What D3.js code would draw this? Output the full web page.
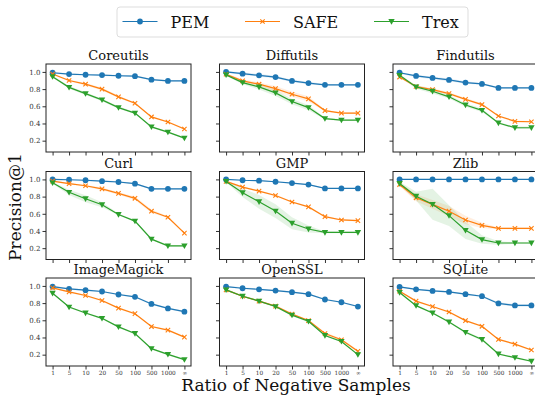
<!DOCTYPE html>
<html lang="en">
<head>
<meta charset="UTF-8">
<script src="https://d3js.org/d3.v7.min.js"></script>
<title>Precision@1 vs ratio of negative samples</title>
<style>
  html, body { margin: 0; padding: 0; background: #fff; overflow: hidden; }
  text { font-family: "DejaVu Serif", "Liberation Serif", serif; }
  .tick text { font-size: 7px; fill: #333; }
  .xaxis .tick text { font-size: 5.8px; }
  .tick line { stroke: #333; }
</style>
</head>
<body>
<script>
// ratios on the x axis
const ratios = ["1", "5", "10", "20", "50", "100", "500", "1000", "\u221e"];
const projects = ["Coreutils", "Diffutils", "Findutils", "Curl", "GMP", "Zlib", "ImageMagick", "OpenSSL", "SQLite"];
const methods = ["PEM", "SAFE", "Trex"];
const yTicks = [0.2, 0.4, 0.6, 0.8, 1.0];

// precision@1, one row per project
const pemValues = [
  [0.99, 0.975, 0.967, 0.963, 0.955, 0.95, 0.91, 0.895, 0.895],
  [1.0, 0.98, 0.96, 0.94, 0.895, 0.87, 0.85, 0.85, 0.85],
  [0.99, 0.953, 0.93, 0.907, 0.876, 0.86, 0.814, 0.814, 0.814],
  [1.0, 0.996, 0.99, 0.98, 0.97, 0.95, 0.89, 0.89, 0.89],
  [1.0, 0.99, 0.985, 0.973, 0.957, 0.94, 0.895, 0.895, 0.895],
  [1.0, 1.0, 1.0, 1.0, 1.0, 1.0, 1.0, 1.0, 1.0],
  [0.992, 0.965, 0.95, 0.935, 0.9, 0.873, 0.79, 0.738, 0.70],
  [0.992, 0.973, 0.96, 0.946, 0.927, 0.904, 0.842, 0.81, 0.76],
  [0.988, 0.96, 0.942, 0.93, 0.904, 0.88, 0.796, 0.773, 0.773]
];
const safeValues = [
  [0.975, 0.9, 0.857, 0.80, 0.71, 0.635, 0.476, 0.417, 0.336],
  [0.973, 0.895, 0.857, 0.806, 0.74, 0.686, 0.55, 0.52, 0.52],
  [0.94, 0.83, 0.794, 0.747, 0.68, 0.62, 0.487, 0.425, 0.42],
  [0.98, 0.95, 0.926, 0.89, 0.837, 0.78, 0.63, 0.56, 0.375],
  [0.977, 0.91, 0.864, 0.813, 0.737, 0.68, 0.566, 0.528, 0.52],
  [0.94, 0.786, 0.71, 0.63, 0.528, 0.466, 0.43, 0.43, 0.43],
  [0.977, 0.93, 0.888, 0.83, 0.742, 0.677, 0.527, 0.485, 0.404],
  [0.954, 0.88, 0.823, 0.765, 0.673, 0.596, 0.446, 0.373, 0.24],
  [0.938, 0.823, 0.76, 0.696, 0.596, 0.53, 0.377, 0.323, 0.254]
];
const trexValues = [
  [0.945, 0.82, 0.747, 0.674, 0.585, 0.52, 0.36, 0.30, 0.23],
  [0.965, 0.876, 0.825, 0.756, 0.655, 0.585, 0.457, 0.44, 0.44],
  [0.96, 0.825, 0.775, 0.71, 0.615, 0.553, 0.406, 0.35, 0.35],
  [0.96, 0.85, 0.775, 0.705, 0.592, 0.515, 0.305, 0.227, 0.227],
  [0.977, 0.845, 0.74, 0.632, 0.49, 0.423, 0.383, 0.383, 0.383],
  [0.953, 0.805, 0.71, 0.578, 0.408, 0.30, 0.26, 0.26, 0.26],
  [0.915, 0.754, 0.685, 0.623, 0.523, 0.446, 0.27, 0.204, 0.142],
  [0.954, 0.88, 0.823, 0.76, 0.66, 0.588, 0.423, 0.354, 0.20],
  [0.923, 0.77, 0.685, 0.58, 0.46, 0.377, 0.208, 0.165, 0.123]
];

// half width of the shaded spread around each line
const pemSpread = [
  [0.01, 0.01, 0.01, 0.01, 0.01, 0.01, 0.01, 0.01, 0.01],
  [0.01, 0.015, 0.015, 0.015, 0.015, 0.015, 0.01, 0.01, 0.01],
  [0.01, 0.015, 0.015, 0.015, 0.015, 0.01, 0.01, 0.01, 0.01],
  [0.01, 0.01, 0.01, 0.01, 0.01, 0.01, 0.01, 0.01, 0.01],
  [0.005, 0.005, 0.005, 0.005, 0.005, 0.005, 0.005, 0.005, 0.005],
  [0.003, 0.003, 0.003, 0.003, 0.003, 0.003, 0.003, 0.003, 0.003],
  [0.01, 0.01, 0.01, 0.01, 0.01, 0.01, 0.01, 0.01, 0.01],
  [0.01, 0.01, 0.01, 0.01, 0.01, 0.01, 0.01, 0.01, 0.01],
  [0.01, 0.01, 0.01, 0.01, 0.01, 0.01, 0.015, 0.015, 0.015]
];
const safeSpread = [
  [0.01, 0.01, 0.015, 0.015, 0.015, 0.01, 0.01, 0.01, 0.01],
  [0.01, 0.02, 0.02, 0.03, 0.03, 0.03, 0.01, 0.01, 0.01],
  [0.01, 0.015, 0.015, 0.015, 0.015, 0.015, 0.01, 0.01, 0.01],
  [0.01, 0.01, 0.01, 0.015, 0.015, 0.02, 0.02, 0.01, 0.01],
  [0.01, 0.01, 0.01, 0.01, 0.01, 0.01, 0.01, 0.01, 0.01],
  [0.02, 0.04, 0.05, 0.06, 0.05, 0.03, 0.01, 0.01, 0.01],
  [0.01, 0.01, 0.01, 0.01, 0.01, 0.01, 0.01, 0.01, 0.01],
  [0.01, 0.01, 0.01, 0.01, 0.01, 0.01, 0.015, 0.015, 0.015],
  [0.01, 0.01, 0.01, 0.01, 0.01, 0.01, 0.01, 0.01, 0.01]
];
const trexSpread = [
  [0.01, 0.015, 0.015, 0.015, 0.015, 0.01, 0.01, 0.01, 0.01],
  [0.01, 0.02, 0.03, 0.035, 0.03, 0.03, 0.01, 0.01, 0.01],
  [0.01, 0.02, 0.025, 0.02, 0.02, 0.02, 0.01, 0.015, 0.015],
  [0.01, 0.03, 0.04, 0.03, 0.01, 0.01, 0.01, 0.01, 0.01],
  [0.01, 0.05, 0.08, 0.08, 0.07, 0.04, 0.01, 0.01, 0.01],
  [0.02, 0.05, 0.18, 0.12, 0.10, 0.05, 0.02, 0.01, 0.01],
  [0.01, 0.01, 0.01, 0.01, 0.01, 0.01, 0.01, 0.01, 0.01],
  [0.01, 0.01, 0.01, 0.01, 0.01, 0.01, 0.01, 0.01, 0.01],
  [0.01, 0.01, 0.01, 0.01, 0.015, 0.015, 0.01, 0.01, 0.01]
];

const colors = ["#1f77b4", "#ff7f0e", "#2ca02c"];
const values = [pemValues, safeValues, trexValues];
const spreads = [pemSpread, safeSpread, trexSpread];

const width = 535, height = 396;
const colLeft = [46, 219.5, 393];
const rowTop = [64, 171.5, 278];
const pw = 145, ph = 88;

const svg = d3.select("body").append("svg")
  .attr("width", width).attr("height", height);

// x: categorical positions with matplotlib-like 5% margins
const x = d3.scaleLinear().domain([-0.4, ratios.length - 1 + 0.4]).range([0, pw]);
const y = d3.scaleLinear().domain([0.068, 1.092]).range([ph, 0]);

function marker(sel, m, color) {
  if (m === 0) {
    sel.append("circle").attr("r", 2.9).attr("fill", color);
  } else if (m === 1) {
    sel.append("path").attr("d", "M-2.2,-2.2L2.2,2.2M-2.2,2.2L2.2,-2.2")
      .attr("stroke", color).attr("stroke-width", 1.1).attr("fill", "none");
  } else {
    sel.append("path").attr("d", "M-3.2,-2.4L3.2,-2.4L0,3.2Z").attr("fill", color);
  }
}

projects.forEach((name, p) => {
  const col = p % 3, row = Math.floor(p / 3);
  const g = svg.append("g").attr("transform", `translate(${colLeft[col]},${rowTop[row]})`);

  // bands
  methods.forEach((m, k) => {
    const vals = values[k][p], sp = spreads[k][p];
    const area = d3.area()
      .x((d, i) => x(i))
      .y0((d, i) => y(d - sp[i]))
      .y1((d, i) => y(d + sp[i]));
    g.append("path").attr("d", area(vals))
      .attr("fill", colors[k]).attr("opacity", 0.13);
  });

  // lines and markers
  methods.forEach((m, k) => {
    const vals = values[k][p];
    const line = d3.line().x((d, i) => x(i)).y(d => y(d));
    g.append("path").attr("d", line(vals))
      .attr("fill", "none").attr("stroke", colors[k]).attr("stroke-width", 1.2);
    vals.forEach((v, i) => {
      const mg = g.append("g").attr("transform", `translate(${x(i)},${y(v)})`);
      marker(mg, k, colors[k]);
    });
  });

  // axes
  const xAxis = d3.axisBottom(x).tickValues(d3.range(ratios.length))
    .tickSize(3.5).tickPadding(1.5)
    .tickFormat(i => row === 2 ? ratios[i] : "");
  g.append("g").attr("class", "xaxis").attr("transform", `translate(0,${ph})`).call(xAxis)
    .call(a => a.select(".domain").remove());

  const yAxis = d3.axisLeft(y).tickValues(yTicks).tickSize(3.5).tickPadding(2)
    .tickFormat(v => col === 0 ? d3.format(".1f")(v) : "");
  g.append("g").call(yAxis).call(a => a.select(".domain").remove());

  g.append("rect").attr("width", pw).attr("height", ph)
    .attr("fill", "none").attr("stroke", "#222").attr("stroke-width", 1);

  g.append("text").attr("x", pw / 2).attr("y", -4)
    .attr("text-anchor", "middle").attr("font-size", 13).attr("fill", "#111")
    .text(name);
});

// legend
const legend = svg.append("g");
legend.append("rect").attr("x", 117).attr("y", 7).attr("width", 351).attr("height", 30)
  .attr("rx", 3).attr("fill", "#fff").attr("stroke", "#ddd").attr("stroke-width", 1);
const legX = [122.5, 245, 374];
methods.forEach((m, k) => {
  const lg = legend.append("g").attr("transform", `translate(${legX[k]},21.5)`);
  lg.append("line").attr("x1", 0).attr("x2", 35).attr("stroke", colors[k]).attr("stroke-width", 1.2);
  const mg = lg.append("g").attr("transform", "translate(17.5,0)");
  marker(mg, k, colors[k]);
  lg.append("text").attr("x", 48).attr("y", 6).attr("font-size", 16).attr("fill", "#111").text(m);
});

// axis titles
svg.append("text").attr("transform", "translate(21,207) rotate(-90)")
  .attr("text-anchor", "middle").attr("font-size", 17).attr("fill", "#111")
  .text("Precision@1");
svg.append("text").attr("x", 296).attr("y", 391)
  .attr("text-anchor", "middle").attr("font-size", 17).attr("fill", "#111")
  .text("Ratio of Negative Samples");
</script>
</body>
</html>
